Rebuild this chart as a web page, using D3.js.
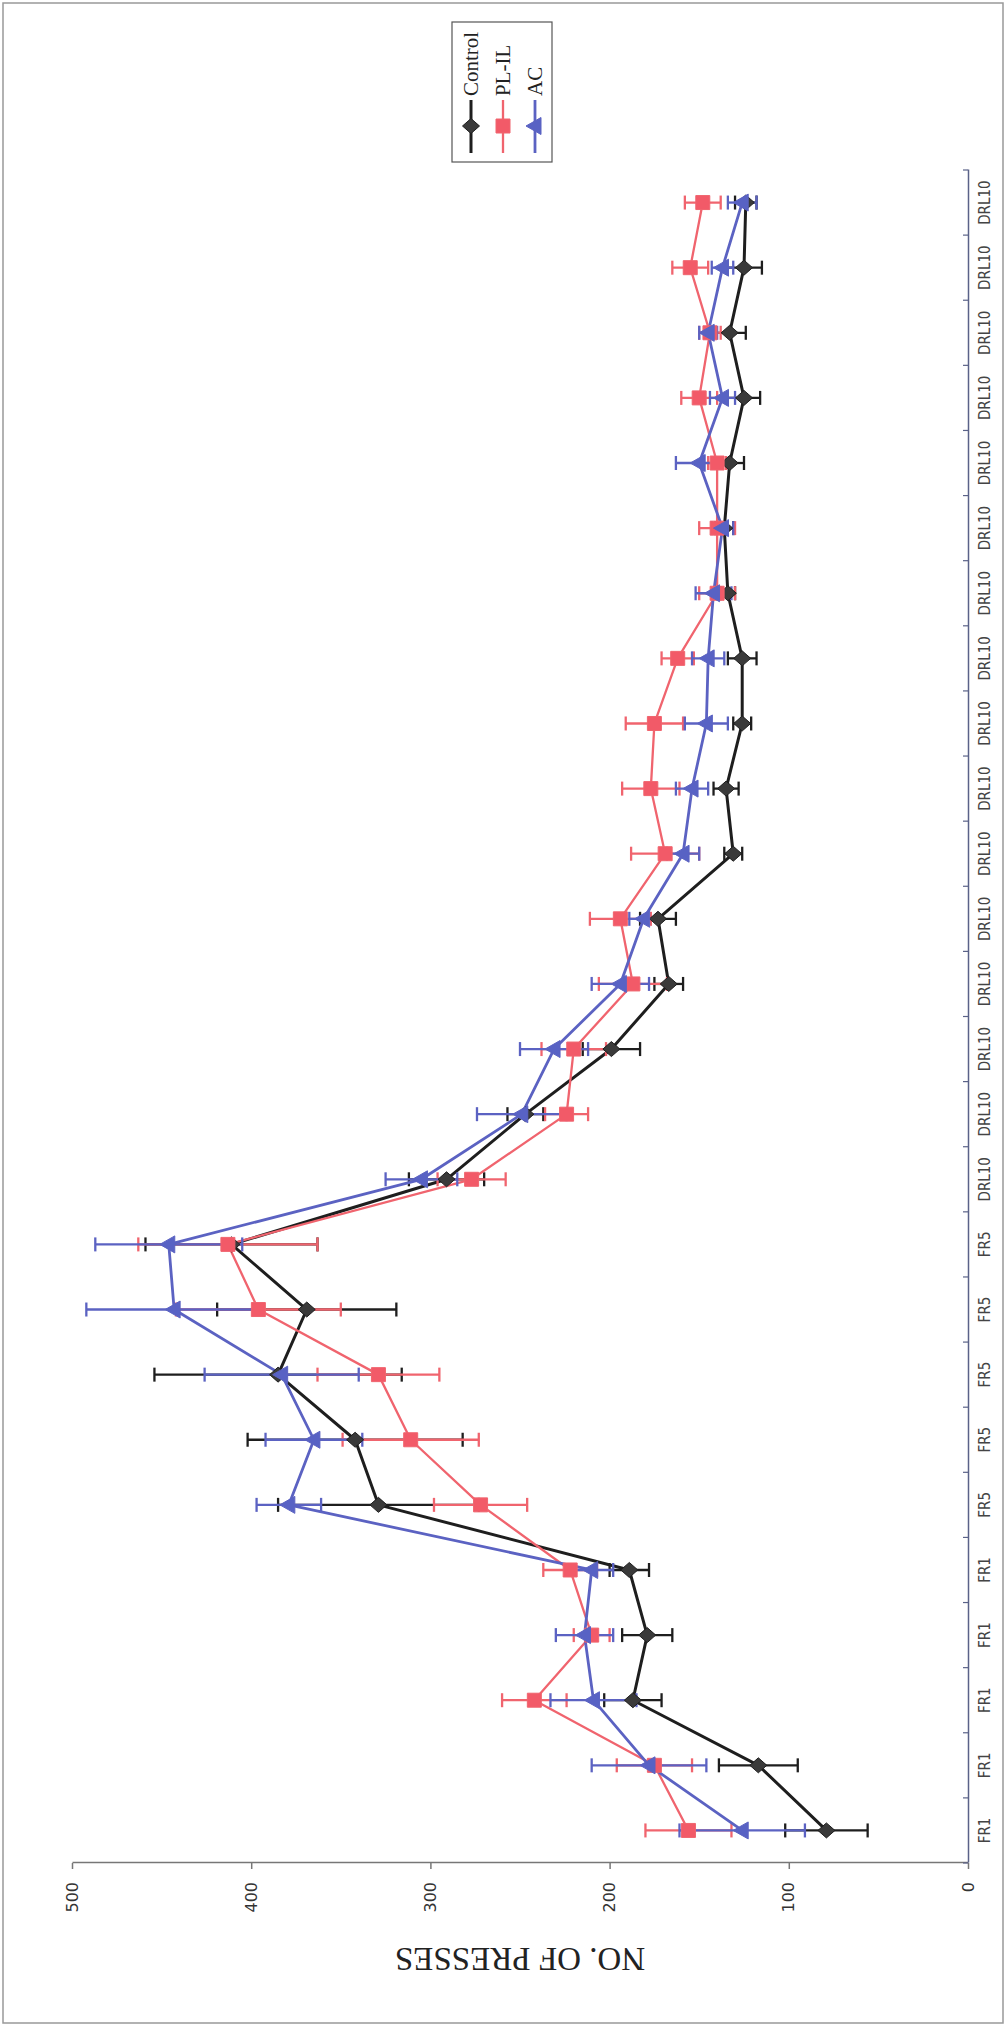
<!DOCTYPE html>
<html>
<head>
<meta charset="utf-8">
<script src="https://cdn.jsdelivr.net/npm/d3@7/dist/d3.min.js"></script>
<style>
  body { margin: 0; background: #fff; }
  svg { display: block; }
</style>
</head>
<body>
<svg id="chart" width="1008" height="2028"></svg>
<script>
// sessions, left to right in the unrotated chart
const categories = [
  'FR1', 'FR1', 'FR1', 'FR1', 'FR1',
  'FR5', 'FR5', 'FR5', 'FR5', 'FR5',
  'DRL10', 'DRL10', 'DRL10', 'DRL10', 'DRL10', 'DRL10', 'DRL10', 'DRL10',
  'DRL10', 'DRL10', 'DRL10', 'DRL10', 'DRL10', 'DRL10', 'DRL10', 'DRL10'
];
const seriesNames = ['Control', 'PL-IL', 'AC'];
const control    = [79, 117, 187, 179, 189, 329, 342, 385, 369, 411, 291, 247, 199, 167, 173, 131, 135, 126, 126, 134, 136, 133, 125, 133, 125, 124];
const controlErr = [23, 22, 16, 14, 11, 56, 60, 69, 50, 48, 21, 10, 16, 8, 10, 5, 7, 5, 8, 4, 5, 8, 9, 9, 10, 6];
const plil       = [156, 175, 242, 210, 222, 272, 311, 329, 396, 413, 277, 224, 220, 187, 194, 169, 177, 175, 162, 140, 140, 140, 150, 144, 155, 148];
const plilErr    = [24, 21, 18, 10, 15, 26, 38, 34, 46, 50, 19, 12, 18, 19, 17, 19, 16, 16, 9, 10, 10, 5, 10, 6, 10, 10];
const ac         = [126, 178, 209, 214, 210, 379, 365, 383, 443, 446, 305, 249, 231, 194, 181, 159, 154, 146, 145, 142, 137, 150, 137, 145, 137, 126];
const acErr      = [35, 32, 24, 16, 12, 18, 27, 43, 49, 41, 20, 25, 19, 16, 8, 9, 9, 12, 9, 10, 6, 13, 7, 5, 6, 8];
const yTicks = [0, 100, 200, 300, 400, 500];

const diamond = 'M0,-8.5L7.5,0L0,8.5L-7.5,0Z';
const square = 'M-7,-7H7V7H-7Z';
const triangle = 'M0,-9L8.5,6L-8.5,6Z';

const series = [
  { name: seriesNames[0], values: control, err: controlErr, line: '#1e1e1e', fill: '#3a3a3a', width: 3, shape: diamond },
  { name: seriesNames[1], values: plil, err: plilErr, line: '#f0646e', fill: '#f25a68', width: 2.3, shape: square },
  { name: seriesNames[2], values: ac, err: acErr, line: '#5b62c2', fill: '#5862c4', width: 2.8, shape: triangle }
];

const svg = d3.select('#chart');

// frame round the whole picture
svg.append('rect')
  .attr('x', 3).attr('y', 3)
  .attr('width', 1000).attr('height', 2020)
  .attr('fill', 'none')
  .attr('stroke', '#999')
  .attr('stroke-width', 1.5);

// the chart is drawn landscape (2028 x 1008) and turned a quarter turn anticlockwise
const g = svg.append('g').attr('transform', 'translate(0,2028) rotate(-90)');

const x = d3.scaleBand()
  .domain(d3.range(categories.length))
  .range([165, 1858]);
const y = d3.scaleLinear()
  .domain([0, 500])
  .range([968, 72]);
const cx = i => x(i) + x.bandwidth() / 2;

// value axis
const yAxis = g.append('g')
  .attr('transform', 'translate(165,0)')
  .call(d3.axisLeft(y).tickValues(yTicks).tickSize(6).tickSizeOuter(0).tickPadding(13));
yAxis.select('.domain').attr('stroke', '#777').attr('stroke-width', 1.5);
yAxis.selectAll('.tick line').attr('stroke', '#777').attr('stroke-width', 1.5);
yAxis.selectAll('text')
  .attr('fill', '#333')
  .style('font-family', '"DejaVu Sans", Verdana, sans-serif')
  .style('font-size', '16px');

// category axis, ticks sit between categories
const xAxis = g.append('g')
  .attr('transform', 'translate(0,968)')
  .call(d3.axisBottom(x).tickFormat(i => categories[i]).tickSize(0).tickSizeOuter(0).tickPadding(11));
xAxis.select('.domain').attr('stroke', '#5a6288').attr('stroke-width', 1.5);
xAxis.selectAll('text')
  .attr('fill', '#444')
  .style('font-family', '"Liberation Sans Narrow", "DejaVu Sans Condensed", sans-serif')
  .style('font-size', '15px');
xAxis.selectAll('.sep')
  .data(d3.range(categories.length + 1))
  .join('line')
    .attr('class', 'sep')
    .attr('x1', i => i < categories.length ? x(i) : x.range()[1])
    .attr('x2', i => i < categories.length ? x(i) : x.range()[1])
    .attr('y1', 0)
    .attr('y2', -5)
    .attr('stroke', '#5a6288')
    .attr('stroke-width', 1.2);

// value axis title
g.append('text')
  .attr('transform', `translate(68,${(y(0) + y(500)) / 2}) rotate(-90)`)
  .attr('text-anchor', 'middle')
  .attr('dy', '0.35em')
  .attr('fill', '#222')
  .style('font-family', '"Liberation Serif", "Times New Roman", serif')
  .style('font-size', '33px')
  .text('NO. OF PRESSES');

const line = d3.line().x((d, i) => cx(i)).y(d => y(d));

// lines and error bars first, markers on top
series.forEach(s => {
  g.append('path')
    .datum(s.values)
    .attr('d', line)
    .attr('fill', 'none')
    .attr('stroke', s.line)
    .attr('stroke-width', s.width)
    .attr('stroke-linejoin', 'round');

  const bars = g.append('g')
    .attr('stroke', s.line)
    .attr('stroke-width', 2.3)
    .selectAll('g')
    .data(s.values.map((v, i) => ({ i, v, e: s.err[i] })))
    .join('g');
  bars.append('line')
    .attr('x1', d => cx(d.i)).attr('x2', d => cx(d.i))
    .attr('y1', d => y(d.v - d.e)).attr('y2', d => y(d.v + d.e));
  bars.append('line')
    .attr('x1', d => cx(d.i) - 7).attr('x2', d => cx(d.i) + 7)
    .attr('y1', d => y(d.v - d.e)).attr('y2', d => y(d.v - d.e));
  bars.append('line')
    .attr('x1', d => cx(d.i) - 7).attr('x2', d => cx(d.i) + 7)
    .attr('y1', d => y(d.v + d.e)).attr('y2', d => y(d.v + d.e));
});

series.forEach(s => {
  g.append('g')
    .selectAll('path')
    .data(s.values)
    .join('path')
      .attr('transform', (d, i) => `translate(${cx(i)},${y(d)})`)
      .attr('d', s.shape)
      .attr('fill', s.fill)
      .attr('stroke', s.line)
      .attr('stroke-width', 1);
});

// legend, right of the plot in the unrotated chart
const legend = g.append('g').attr('transform', 'translate(1866,452)');
legend.append('rect')
  .attr('width', 140).attr('height', 100)
  .attr('fill', '#fff')
  .attr('stroke', '#555')
  .attr('stroke-width', 1.2);
const rows = [19, 51, 83];
series.forEach((s, k) => {
  const row = legend.append('g').attr('transform', `translate(0,${rows[k]})`);
  row.append('line')
    .attr('x1', 9).attr('x2', 62)
    .attr('stroke', s.line)
    .attr('stroke-width', s.width);
  row.append('path')
    .attr('transform', 'translate(36,0)')
    .attr('d', s.shape)
    .attr('fill', s.fill)
    .attr('stroke', s.line)
    .attr('stroke-width', 1);
  row.append('text')
    .attr('x', 66)
    .attr('dy', '0.35em')
    .attr('fill', '#222')
    .style('font-family', '"Liberation Serif", "Times New Roman", serif')
    .style('font-size', '21px')
    .text(s.name);
});
</script>
</body>
</html>
